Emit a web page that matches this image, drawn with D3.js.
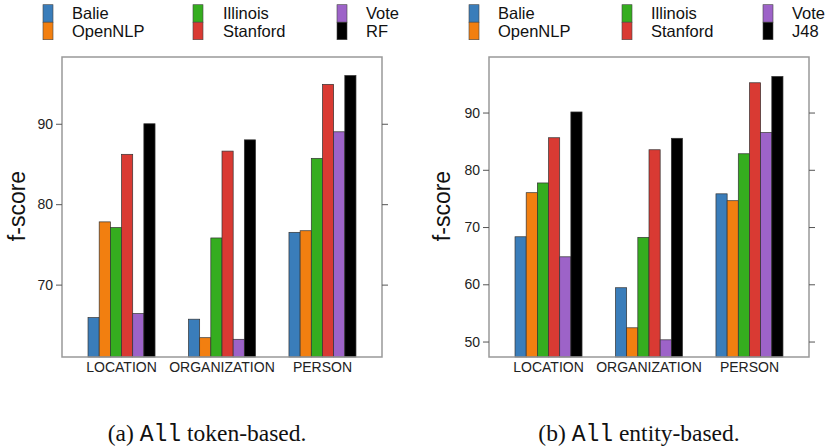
<!DOCTYPE html>
<html>
  <head>
    <meta charset="utf-8">
    <script src="https://cdn.jsdelivr.net/npm/d3@7"></script>
    <style>
      body { margin: 0; background: #fff; }
      svg { display: block; }
    </style>
  </head>
<body>
<script>
"use strict";

// categories and series
var categories = ["LOCATION", "ORGANIZATION", "PERSON"];
var systemsToken = ["Balie", "OpenNLP", "Illinois", "Stanford", "Vote", "RF"];
var systemsEntity = ["Balie", "OpenNLP", "Illinois", "Stanford", "Vote", "J48"];
var colors = ["#3a7dba", "#f27f10", "#35ad1f", "#d93a33", "#9d63c8", "#000000"];

// (a) token-based f-scores, one array per category, in series order
var tokenLocation     = [65.9, 77.8, 77.1, 86.2, 66.4, 90.0];
var tokenOrganization = [65.7, 63.4, 75.8, 86.6, 63.2, 88.0];
var tokenPerson       = [76.5, 76.7, 85.7, 94.9, 89.0, 96.0];

// (b) entity-based f-scores
var entityLocation     = [68.3, 76.0, 77.7, 85.6, 64.8, 90.1];
var entityOrganization = [59.4, 52.4, 68.2, 83.5, 50.3, 85.5];
var entityPerson       = [75.8, 74.6, 82.8, 95.2, 86.5, 96.3];

var tokenTicks = [70, 80, 90];
var entityTicks = [50, 60, 70, 80, 90];

var svg = d3.select("body").append("svg")
    .attr("width", 830)
    .attr("height", 447);

function drawPanel(opt) {
    var top = 57, bottom = 357;
    var left = opt.left, right = opt.left + 320;

    var x0 = d3.scaleBand().domain(categories)
        .range([left, right]).paddingInner(0.333).paddingOuter(0.259);
    var x1 = d3.scaleBand().domain(opt.systems).range([0, x0.bandwidth()]);
    var y = d3.scaleLinear().domain(opt.domain).range([bottom, top]);

    var g = svg.append("g");

    // bars
    categories.forEach(function(cat, ci) {
        g.selectAll(null).data(opt.values[ci]).enter().append("rect")
            .attr("x", function(d, i) { return x0(cat) + x1(opt.systems[i]); })
            .attr("y", function(d) { return y(d); })
            .attr("width", x1.bandwidth())
            .attr("height", function(d) { return bottom - y(d); })
            .attr("fill", function(d, i) { return colors[i]; })
            .attr("stroke", "#333")
            .attr("stroke-width", 0.7);
    });

    // frame
    g.append("rect")
        .attr("x", left).attr("y", top)
        .attr("width", right - left).attr("height", bottom - top)
        .attr("fill", "none").attr("stroke", "#999").attr("stroke-width", 1.5);

    var ya = g.append("g").attr("transform", "translate(" + left + ",0)")
        .call(d3.axisLeft(y).tickValues(opt.ticks).tickSize(6).tickPadding(3));
    ya.select(".domain").remove();
    ya.selectAll("line").attr("stroke", "#555");
    ya.selectAll("text")
        .style("font-family", "Liberation Sans, Arial, sans-serif")
        .style("font-size", "14px").attr("fill", "#222");

    var yr = g.append("g").attr("transform", "translate(" + right + ",0)")
        .call(d3.axisRight(y).tickValues(opt.ticks).tickSize(6).tickFormat(""));
    yr.select(".domain").remove();
    yr.selectAll("line").attr("stroke", "#555");

    // category labels
    g.selectAll(null).data(categories).enter().append("text")
        .attr("x", function(d) { return x0(d) + x0.bandwidth() / 2; })
        .attr("y", 372)
        .attr("text-anchor", "middle")
        .style("font-family", "Liberation Sans, Arial, sans-serif")
        .style("font-size", "14px")
        .attr("fill", "#222")
        .text(function(d) { return d; });

    // y label
    g.append("text")
        .attr("transform", "translate(" + opt.labelX + ",206) rotate(-90)")
        .attr("text-anchor", "middle")
        .style("font-family", "Liberation Sans, Arial, sans-serif")
        .style("font-size", "23px")
        .attr("fill", "#111")
        .text("f-score");

    // legend: three columns, two rows
    var lg = g.append("g");
    opt.systems.forEach(function(s, i) {
        var col = Math.floor(i / 2), row = i % 2;
        lg.append("rect")
            .attr("x", opt.legendSwatch[col]).attr("y", 4.7 + row * 17.5)
            .attr("width", 10).attr("height", 17.5)
            .attr("fill", colors[i]).attr("stroke", "#444").attr("stroke-width", 0.6);
        lg.append("text")
            .attr("x", opt.legendText[col]).attr("y", 19 + row * 17.5)
            .style("font-family", "Liberation Sans, Arial, sans-serif")
            .style("font-size", "16.5px")
            .attr("fill", "#111")
            .text(s);
    });

    // caption
    var cap = g.append("text")
        .attr("x", opt.captionX).attr("y", 441)
        .attr("text-anchor", "middle")
        .style("font-family", "Liberation Serif, Times New Roman, serif")
        .style("font-size", "23.5px")
        .attr("fill", "#111");
    cap.append("tspan").text(opt.captionPre);
    cap.append("tspan").style("font-family", "Liberation Mono, Courier New, monospace")
        .style("font-size", "23px").text("All");
    cap.append("tspan").text(opt.captionPost);
}

drawPanel({
    left: 62,
    domain: [61, 98.3],
    ticks: tokenTicks,
    systems: systemsToken,
    values: [tokenLocation, tokenOrganization, tokenPerson],
    labelX: 25,
    legendSwatch: [43, 193, 337],
    legendText: [72, 223, 366],
    captionX: 207,
    captionPre: "(a) ",
    captionPost: " token-based."
});

drawPanel({
    left: 489,
    domain: [47.3, 99.7],
    ticks: entityTicks,
    systems: systemsEntity,
    values: [entityLocation, entityOrganization, entityPerson],
    labelX: 450,
    legendSwatch: [469, 622, 763],
    legendText: [498, 651, 792],
    captionX: 639,
    captionPre: "(b) ",
    captionPost: " entity-based."
});
</script>
</body>
</html>
